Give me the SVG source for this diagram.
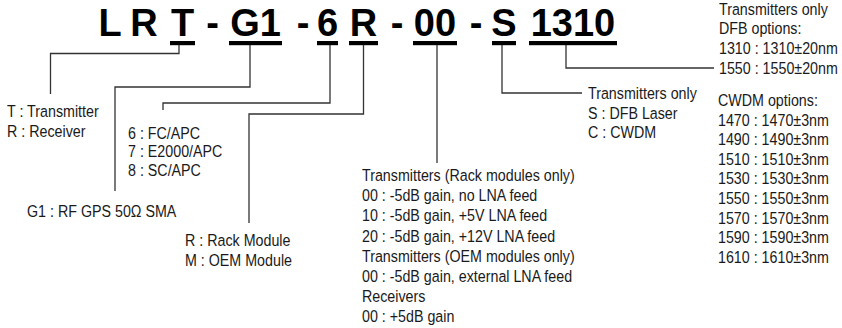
<svg xmlns="http://www.w3.org/2000/svg" width="842" height="328" viewBox="0 0 842 328">
<style>
.t{font-family:"Liberation Sans",Arial,sans-serif;font-size:17.4px;fill:#1a1a1a}
.h{font-family:"Liberation Sans",Arial,sans-serif;font-weight:bold;font-size:38px;fill:#000;text-anchor:middle}
.u{fill:#000}
.c{fill:none;stroke:#333;stroke-width:1.3}
</style>
<rect width="842" height="328" fill="#fff"/>
<g id="code">
<text class="h" x="110" y="36">L</text>
<text class="h" x="144" y="36">R</text>
<text class="h" x="182.5" y="36">T</text>
<text class="h" x="212.5" y="36">-</text>
<text class="h" x="255.5" y="36">G1</text>
<text class="h" x="303" y="36">-</text>
<text class="h" x="327.5" y="36">6</text>
<text class="h" x="363.5" y="36">R</text>
<text class="h" x="397" y="36">-</text>
<text class="h" x="435" y="36">00</text>
<text class="h" x="476" y="36">-</text>
<text class="h" x="504" y="36">S</text>
<text class="h" x="573" y="36">1310</text>
<rect class="u" x="170" y="41" width="25" height="4.2"/>
<rect class="u" x="229" y="41" width="53" height="4.2"/>
<rect class="u" x="317" y="41" width="21" height="4.2"/>
<rect class="u" x="349" y="41" width="29" height="4.2"/>
<rect class="u" x="413" y="41" width="44" height="4.2"/>
<rect class="u" x="492" y="41" width="24" height="4.2"/>
<rect class="u" x="529" y="41" width="88" height="4.2"/>
</g>
<g id="connectors">
<polyline class="c" points="179,45 179,53.5 50.5,53.5 50.5,94"/>
<polyline class="c" points="250,45 250,87 115,87 115,191"/>
<polyline class="c" points="330,45 330,103 163,103 163,110"/>
<polyline class="c" points="363.5,45 363.5,114 249,114 249,223"/>
<polyline class="c" points="437,45 437,163"/>
<polyline class="c" points="502,45 502,93 582,93"/>
<polyline class="c" points="566,45 566,68 714,68"/>
</g>
<g transform="scale(0.82,1)">
<g id="type">
<text class="t" x="8.54" y="117">T : Transmitter</text>
<text class="t" x="8.54" y="136.6">R : Receiver</text>
</g>
<g id="input">
<text class="t" x="32.93" y="217">G1 : RF GPS 50Ω SMA</text>
</g>
<g id="connector-type">
<text class="t" x="156.1" y="139">6 : FC/APC</text>
<text class="t" x="156.1" y="157.5">7 : E2000/APC</text>
<text class="t" x="156.1" y="176">8 : SC/APC</text>
</g>
<g id="module">
<text class="t" x="225.6" y="246">R : Rack Module</text>
<text class="t" x="225.6" y="266">M : OEM Module</text>
</g>
<g id="gain">
<text class="t" x="441.46" y="181">Transmitters (Rack modules only)</text>
<text class="t" x="441.46" y="201.2">00 : -5dB gain, no LNA feed</text>
<text class="t" x="441.46" y="221.4">10 : -5dB gain, +5V LNA feed</text>
<text class="t" x="441.46" y="241.6">20 : -5dB gain, +12V LNA feed</text>
<text class="t" x="441.46" y="261.8">Transmitters (OEM modules only)</text>
<text class="t" x="441.46" y="282">00 : -5dB gain, external LNA feed</text>
<text class="t" x="441.46" y="302.2">Receivers</text>
<text class="t" x="441.46" y="322.4">00 : +5dB gain</text>
</g>
<g id="laser">
<text class="t" x="717.07" y="99.5">Transmitters only</text>
<text class="t" x="717.07" y="119">S : DFB Laser</text>
<text class="t" x="717.07" y="138.5">C : CWDM</text>
</g>
<g id="wavelength">
<text class="t" x="876.83" y="14.5">Transmitters only</text>
<text class="t" x="876.83" y="34.5">DFB options:</text>
<text class="t" x="876.83" y="54.5">1310 : 1310±20nm</text>
<text class="t" x="876.83" y="74.5">1550 : 1550±20nm</text>
<text class="t" x="875.61" y="106">CWDM options:</text>
<text class="t" x="875.61" y="125.6">1470 : 1470±3nm</text>
<text class="t" x="875.61" y="145.2">1490 : 1490±3nm</text>
<text class="t" x="875.61" y="164.8">1510 : 1510±3nm</text>
<text class="t" x="875.61" y="184.4">1530 : 1530±3nm</text>
<text class="t" x="875.61" y="204">1550 : 1550±3nm</text>
<text class="t" x="875.61" y="223.6">1570 : 1570±3nm</text>
<text class="t" x="875.61" y="243.2">1590 : 1590±3nm</text>
<text class="t" x="875.61" y="262.8">1610 : 1610±3nm</text>
</g>
</g>
</svg>
